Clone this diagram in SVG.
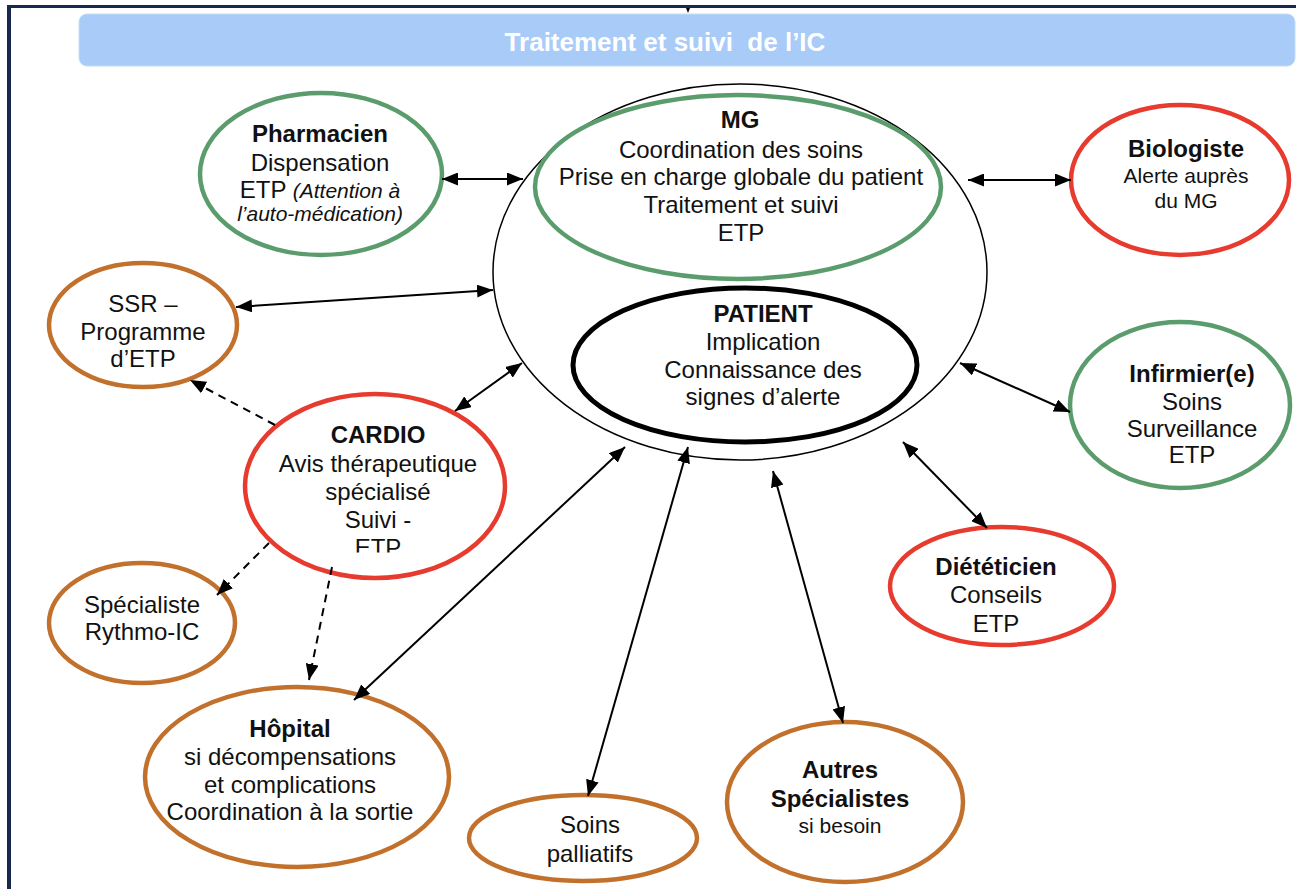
<svg xmlns="http://www.w3.org/2000/svg" width="1296" height="889" viewBox="0 0 1296 889">
<defs>
<style>
text{font-family:"Liberation Sans",Arial,sans-serif;font-size:24px;fill:#111;text-anchor:middle}
.b{font-weight:bold}
.s{font-size:21px}
.i{font-style:italic;font-size:21px}
.title{font-weight:bold;font-size:26px;fill:#fff}
.nd{fill:#fff;stroke-width:4.5}
.g{stroke:#5b9c6d}
.r{stroke:#e63b2e}
.o{stroke:#c2712c}
.cn{fill:none;stroke:#000;stroke-width:2}
.dash{stroke-dasharray:8,6}
</style>
<marker id="ah" viewBox="0 0 16 13" refX="16" refY="6.5" markerWidth="16" markerHeight="13" markerUnits="userSpaceOnUse" orient="auto-start-reverse">
<path d="M0,0 L16,6.5 L0,13 z" fill="#000"/>
</marker>
<clipPath id="cardioClip"><rect x="240" y="380" width="280" height="172.5"/></clipPath>
</defs>

<g id="frame">
<line x1="7" y1="6.5" x2="1296" y2="6.5" stroke="#17294d" stroke-width="3"/>
<line x1="9" y1="5" x2="9" y2="889" stroke="#17294d" stroke-width="4"/>
<path d="M686,8 L690,8 L688,13 z" fill="#000"/>
</g>

<g id="banner">
<rect x="79" y="14" width="1216" height="52" rx="8" fill="#a8cbf8" stroke="#c4dcfa" stroke-width="1"/>
<text class="title" x="665" y="51">Traitement et suivi&#160; de l’IC</text>
</g>

<g id="mg">
<ellipse cx="740" cy="272" rx="247" ry="188" fill="#fff" stroke="#000" stroke-width="1.5"/>
<ellipse class="nd g" cx="738" cy="187" rx="203" ry="92"/>
<text class="b" x="740" y="128">MG</text>
<text x="741" y="158">Coordination des soins</text>
<text x="741" y="185">Prise en charge globale du patient</text>
<text x="741" y="213">Traitement et suivi</text>
<text x="741" y="241">ETP</text>
</g>

<g id="patient">
<ellipse cx="745" cy="365" rx="172" ry="77" fill="none" stroke="#000" stroke-width="5"/>
<text class="b" x="763" y="322">PATIENT</text>
<text x="763" y="350">Implication</text>
<text x="763" y="378">Connaissance des</text>
<text x="763" y="405">signes d’alerte</text>
</g>

<g id="pharmacien">
<ellipse class="nd g" cx="321" cy="174" rx="121" ry="81"/>
<text class="b" x="320" y="142">Pharmacien</text>
<text x="320" y="171">Dispensation</text>
<text x="320" y="198">ETP <tspan class="i">(Attention à</tspan></text>
<text class="i" x="320" y="221">l’auto-médication)</text>
</g>

<g id="biologiste">
<ellipse class="nd r" cx="1180" cy="180" rx="109" ry="75"/>
<text class="b" x="1186" y="157">Biologiste</text>
<text class="s" x="1186" y="183">Alerte auprès</text>
<text class="s" x="1186" y="208">du MG</text>
</g>

<g id="infirmier">
<ellipse class="nd g" cx="1180" cy="405" rx="110" ry="83"/>
<text class="b" x="1192" y="382">Infirmier(e)</text>
<text x="1192" y="410">Soins</text>
<text x="1192" y="437">Surveillance</text>
<text x="1192" y="463">ETP</text>
</g>

<g id="ssr">
<ellipse class="nd o" cx="143" cy="325" rx="94" ry="62"/>
<text x="143" y="312">SSR –</text>
<text x="143" y="340">Programme</text>
<text x="143" y="367">d’ETP</text>
</g>

<g id="cardio">
<ellipse class="nd r" cx="375" cy="486" rx="130" ry="92"/>
<text class="b" x="378" y="443">CARDIO</text>
<text x="378" y="472">Avis thérapeutique</text>
<text x="378" y="500">spécialisé</text>
<text x="378" y="528">Suivi -</text>
<text x="378" y="556" clip-path="url(#cardioClip)">ETP</text>
</g>

<g id="specialiste">
<ellipse class="nd o" cx="142" cy="623" rx="93" ry="60"/>
<text x="142" y="613">Spécialiste</text>
<text x="142" y="640">Rythmo-IC</text>
</g>

<g id="hopital">
<ellipse class="nd o" cx="297" cy="777" rx="152" ry="90"/>
<text class="b" x="290" y="737">Hôpital</text>
<text x="290" y="765">si décompensations</text>
<text x="290" y="793">et complications</text>
<text x="290" y="820">Coordination à la sortie</text>
</g>

<g id="palliatifs">
<ellipse class="nd o" cx="583" cy="838" rx="114" ry="43"/>
<text x="590" y="833">Soins</text>
<text x="590" y="862">palliatifs</text>
</g>

<g id="autres">
<ellipse class="nd o" cx="845" cy="802" rx="118" ry="80"/>
<text class="b" x="840" y="778">Autres</text>
<text class="b" x="840" y="807">Spécialistes</text>
<text class="s" x="840" y="833">si besoin</text>
</g>

<g id="dieteticien">
<ellipse class="nd r" cx="1002" cy="586" rx="112" ry="59"/>
<text class="b" x="996" y="575">Diététicien</text>
<text x="996" y="603">Conseils</text>
<text x="996" y="632">ETP</text>
</g>

<g id="connectors">
<path class="cn" d="M442,179 L523,179" marker-start="url(#ah)" marker-end="url(#ah)"/>
<path class="cn" d="M968,180 L1071,180" marker-start="url(#ah)" marker-end="url(#ah)"/>
<path class="cn" d="M236,307 L493,290" marker-start="url(#ah)" marker-end="url(#ah)"/>
<path class="cn" d="M455,411 L522,363" marker-start="url(#ah)" marker-end="url(#ah)"/>
<path class="cn dash" d="M275,425 L190,380" marker-end="url(#ah)"/>
<path class="cn dash" d="M269,543 L217,595" marker-end="url(#ah)"/>
<path class="cn dash" d="M332,567 L309,680" marker-end="url(#ah)"/>
<path class="cn" d="M354,700 L625,447" marker-start="url(#ah)" marker-end="url(#ah)"/>
<path class="cn" d="M588,796 L688,447" marker-start="url(#ah)" marker-end="url(#ah)"/>
<path class="cn" d="M773,471 L843,723" marker-start="url(#ah)" marker-end="url(#ah)"/>
<path class="cn" d="M903,442 L987,528" marker-start="url(#ah)" marker-end="url(#ah)"/>
<path class="cn" d="M960,363 L1070,412" marker-start="url(#ah)" marker-end="url(#ah)"/>
</g>
</svg>
